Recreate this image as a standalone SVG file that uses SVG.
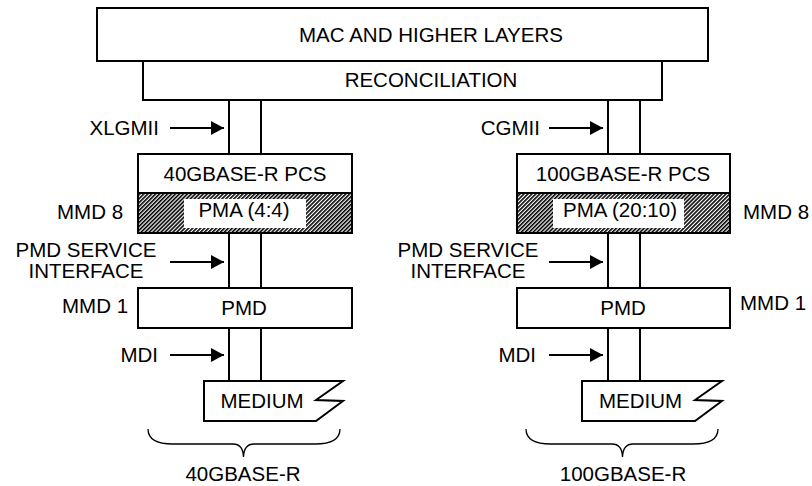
<svg xmlns="http://www.w3.org/2000/svg" width="812" height="486" viewBox="0 0 812 486">
<style>
text{font-family:"Liberation Sans",Arial,sans-serif;font-size:20.5px;fill:#000}
.c{text-anchor:middle}
.e{text-anchor:end}
.box{fill:#fff;stroke:#000;stroke-width:2}
.hb{fill:url(#hatch);stroke:#000;stroke-width:2}
.ln{stroke:#000;stroke-width:2;fill:none}
.ar{stroke:#000;stroke-width:2;fill:none;marker-end:url(#ah)}
.br{stroke:#000;stroke-width:1.3;fill:none}
</style>
<defs>
<pattern id="hatch" width="2.8" height="2.8" patternUnits="userSpaceOnUse" patternTransform="rotate(45)">
<rect width="2.8" height="2.8" fill="#fff"/><rect width="1.6" height="2.8" fill="#000"/>
</pattern>
<marker id="ah" markerUnits="userSpaceOnUse" markerWidth="14" markerHeight="14" refX="13" refY="7" orient="auto">
<path d="M0,0 L13,7 L0,14 Z" fill="#000"/>
</marker>
</defs>
<rect width="812" height="486" fill="#fff"/>

<g id="connectors">
<line class="ln" x1="229" y1="100" x2="229" y2="154"/>
<line class="ln" x1="261" y1="100" x2="261" y2="154"/>
<line class="ln" x1="229" y1="233" x2="229" y2="288"/>
<line class="ln" x1="261" y1="233" x2="261" y2="288"/>
<line class="ln" x1="229" y1="328" x2="229" y2="381"/>
<line class="ln" x1="261" y1="328" x2="261" y2="381"/>
<line class="ln" x1="608" y1="100" x2="608" y2="154"/>
<line class="ln" x1="640" y1="100" x2="640" y2="154"/>
<line class="ln" x1="608" y1="233" x2="608" y2="288"/>
<line class="ln" x1="640" y1="233" x2="640" y2="288"/>
<line class="ln" x1="608" y1="328" x2="608" y2="381"/>
<line class="ln" x1="640" y1="328" x2="640" y2="381"/>
<line class="ar" x1="170" y1="128" x2="224" y2="128"/>
<line class="ar" x1="170" y1="262" x2="224" y2="262"/>
<line class="ar" x1="170" y1="355" x2="224" y2="355"/>
<line class="ar" x1="549" y1="128" x2="603" y2="128"/>
<line class="ar" x1="549" y1="262" x2="603" y2="262"/>
<line class="ar" x1="549" y1="355" x2="603" y2="355"/>
</g>

<g id="mac">
<rect class="box" x="97" y="8" width="611" height="53"/>
<text class="c" x="431" y="42">MAC AND HIGHER LAYERS</text>
</g>
<g id="reconciliation">
<rect class="box" x="143" y="61" width="519" height="39"/>
<text class="c" x="431" y="86.5">RECONCILIATION</text>
</g>

<g id="labels-left">
<text class="e" x="159" y="135">XLGMII</text>
<text x="57" y="219">MMD 8</text>
<text class="c" x="86" y="257">PMD SERVICE</text>
<text class="c" x="86" y="278">INTERFACE</text>
<text x="62" y="313">MMD 1</text>
<text class="e" x="158" y="362">MDI</text>
</g>
<g id="labels-right">
<text class="e" x="540" y="135">CGMII</text>
<text x="743" y="218.5">MMD 8</text>
<text class="c" x="468" y="257">PMD SERVICE</text>
<text class="c" x="468" y="278">INTERFACE</text>
<text x="740" y="309.5">MMD 1</text>
<text class="e" x="536" y="362">MDI</text>
</g>

<g id="pcs40">
<rect class="box" x="138" y="154" width="214" height="39"/>
<text class="c" x="245" y="180.5">40GBASE-R PCS</text>
</g>
<g id="pma40">
<rect class="hb" x="138" y="193" width="214" height="40"/>
<rect x="184" y="199" width="122" height="29" fill="#fff"/>
<text class="c" x="244" y="216.5">PMA (4:4)</text>
</g>
<g id="pmd40">
<rect class="box" x="138" y="288" width="214" height="40"/>
<text class="c" x="244" y="315">PMD</text>
</g>
<g id="medium40">
<path class="box" d="M204,381 L343,381 L316,400 L343,401 L316,421 L204,421 Z"/>
<text class="c" x="262" y="408">MEDIUM</text>
</g>
<g id="brace40">
<path class="br" d="M148,429 Q148,444 173,444 L233,444 Q243,444 243.5,457 Q244,444 254,444 L315,444 Q340,444 340,429"/>
<text class="c" x="243" y="481">40GBASE-R</text>
</g>

<g id="pcs100">
<rect class="box" x="517" y="154" width="213" height="39"/>
<text class="c" x="623" y="180.5">100GBASE-R PCS</text>
</g>
<g id="pma100">
<rect class="hb" x="517" y="193" width="213" height="40"/>
<rect x="553" y="199" width="131" height="29" fill="#fff"/>
<text class="c" x="620" y="216.5">PMA (20:10)</text>
</g>
<g id="pmd100">
<rect class="box" x="517" y="288" width="213" height="40"/>
<text class="c" x="623" y="315">PMD</text>
</g>
<g id="medium100">
<path class="box" d="M582,381 L722,381 L695,400 L722,401 L695,421 L582,421 Z"/>
<text class="c" x="640.5" y="408">MEDIUM</text>
</g>
<g id="brace100">
<path class="br" d="M526,429 Q526,444 551,444 L612,444 Q622,444 622.5,457 Q623,444 633,444 L693,444 Q718,444 718,429"/>
<text class="c" x="623" y="481">100GBASE-R</text>
</g>
</svg>
